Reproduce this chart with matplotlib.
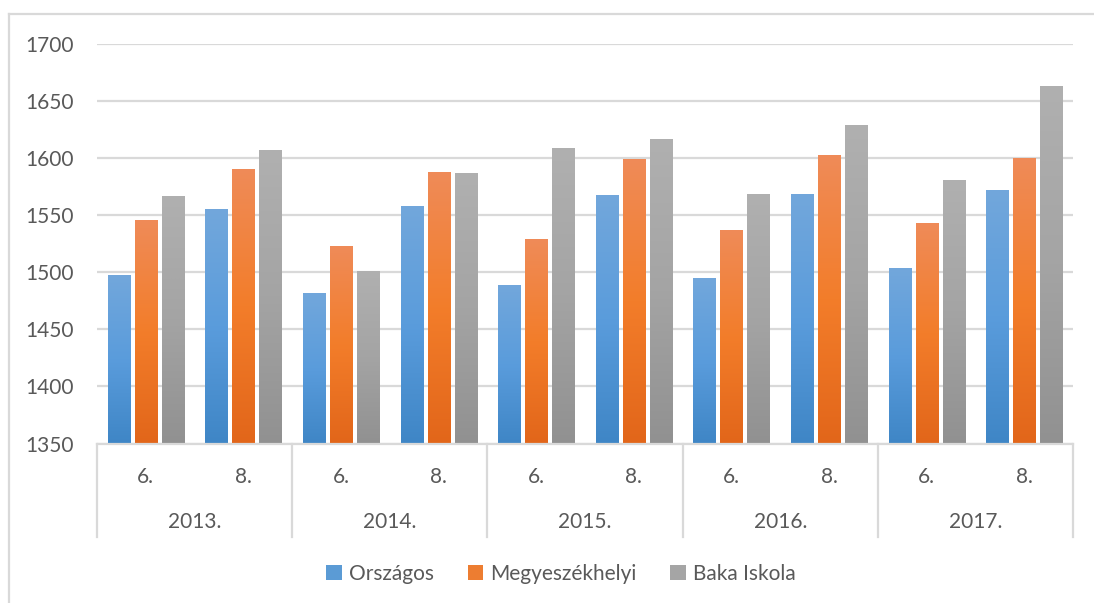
import matplotlib

matplotlib.use("Agg")
import matplotlib.pyplot as plt  # noqa: E402
import numpy as np  # noqa: E402
from matplotlib.colors import LinearSegmentedColormap  # noqa: E402
from matplotlib.lines import Line2D  # noqa: E402
from matplotlib.patches import Patch  # noqa: E402
from matplotlib.transforms import blended_transform_factory  # noqa: E402

years = ["2013.", "2014.", "2015.", "2016.", "2017."]
grades = ["6.", "8."]
series_names = ["Országos", "Megyeszékhelyi", "Baka Iskola"]
orszagos = [1497, 1555, 1481, 1557, 1488, 1567, 1494, 1568, 1503, 1571]
megyeszekhelyi = [1545, 1590, 1522, 1587, 1528, 1598, 1536, 1602, 1542, 1599]
baka = [1566, 1606, 1500, 1586, 1608, 1616, 1568, 1628, 1580, 1662]
y_ticks = [1350, 1400, 1450, 1500, 1550, 1600, 1650, 1700]

# bottom, mid, top colours of the gradient fill
gradients = [
    ["#3f86c6", "#5a9cdc", "#72a7db"],
    ["#e2661a", "#f37d2a", "#ef8b58"],
    ["#919191", "#a4a4a4", "#b0b0b0"],
]
legend_colors = ["#5b9bd5", "#ed7d31", "#a5a5a5"]
text_color = "#595959"
line_color = "#d9d9d9"

plt.rcParams["font.family"] = ["Lato", "DejaVu Sans"]

fig = plt.figure(figsize=(10.94, 6.03), dpi=100)
ax = fig.add_axes([97 / 1094, 159.5 / 603, 976 / 1094, 399.5 / 603])

x = np.arange(len(orszagos))
step, width = 0.277, 0.226
ramp = np.linspace(0, 1, 256).reshape(-1, 1)
for i, vals in enumerate([orszagos, megyeszekhelyi, baka]):
    cmap = LinearSegmentedColormap.from_list(f"g{i}", gradients[i])
    bars = ax.bar(x + (i - 1) * step, np.array(vals) - 1350, width, bottom=1350,
                  color="none", zorder=3)
    for b in bars:
        x0, y0 = b.get_x(), b.get_y()
        ax.imshow(ramp, extent=[x0, x0 + b.get_width(), y0, y0 + b.get_height()],
                  origin="lower", cmap=cmap, aspect="auto", zorder=3,
                  interpolation="bicubic")

ax.set_xlim(-0.5, len(x) - 0.5)
ax.set_ylim(1350, 1700)
ax.set_yticks(y_ticks)
ax.set_yticklabels([str(t) for t in y_ticks], fontsize=15, color=text_color)
ax.tick_params(axis="y", length=0, pad=17)
ax.set_xticks([])
ax.grid(axis="y", color=line_color, linewidth=1.6, zorder=0)
ax.set_axisbelow(True)
for side in ["top", "right", "left"]:
    ax.spines[side].set_visible(False)
ax.spines["bottom"].set_color(line_color)
ax.spines["bottom"].set_linewidth(1.6)
ax.spines["bottom"].set_zorder(4)

# two-level category axis
trans = blended_transform_factory(ax.transData, ax.transAxes)
for k in range(len(years) + 1):
    ax.add_line(Line2D([2 * k - 0.5] * 2, [0, -0.234], transform=trans,
                       color=line_color, linewidth=1.6, clip_on=False))
for j in x:
    ax.text(j, -0.084, grades[j % 2], transform=trans, ha="center", va="center",
            fontsize=15, color=text_color)
for k, yr in enumerate(years):
    ax.text(2 * k + 0.5, -0.196, yr, transform=trans, ha="center", va="center",
            fontsize=15, color=text_color)

handles = [Patch(facecolor=c, edgecolor="none") for c in legend_colors]
fig.legend(handles, series_names, loc="center", bbox_to_anchor=(561 / 1094, 29 / 603),
           ncol=3, frameon=False, fontsize=15, labelcolor=text_color,
           handlelength=0.75, handleheight=0.75, handletextpad=0.35, columnspacing=1.6)

# outer chart frame
fig.add_artist(Line2D([8.5 / 1094, 8.5 / 1094], [0, 589 / 603], color=line_color,
                      linewidth=1.6, transform=fig.transFigure))
fig.add_artist(Line2D([8.5 / 1094, 1], [589 / 603, 589 / 603], color=line_color,
                      linewidth=1.6, transform=fig.transFigure))

fig.savefig("out.png", dpi=100)
plt.close(fig)
